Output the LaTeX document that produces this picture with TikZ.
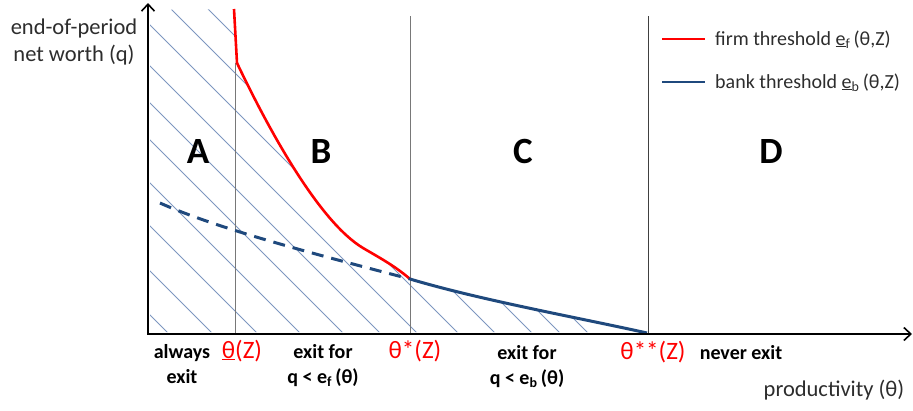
\documentclass[tikz,border=0pt]{standalone}
\usepackage{fontspec}
\setmainfont{Carlito}
\usetikzlibrary{arrows.meta}
\definecolor{navy}{RGB}{31,73,125}
\definecolor{hatchc}{RGB}{125,150,192}
\definecolor{redc}{RGB}{255,0,0}
\definecolor{txt}{RGB}{45,45,45}
\definecolor{vgray}{RGB}{120,120,120}
\begin{document}
\begin{tikzpicture}[x=1pt,y=-1pt,
  axis/.style={draw=black,line width=2pt,{Straight Barb[length=7pt,width=13pt,line width=1.6pt]}-{Straight Barb[length=7pt,width=13pt,line width=1.6pt]}},
  vline/.style={draw=vgray,line width=1pt},
  hatchline/.style={draw=hatchc,line width=0.8pt},
  redcurve/.style={draw=redc,line width=2.6pt},
  bluecurve/.style={draw=navy,line width=3pt},
  bluedash/.style={draw=navy,line width=3pt,dash pattern=on 12pt off 8pt},
  axlbl/.style={font=\fontsize{22.5}{26}\selectfont,text=txt,inner sep=0pt,anchor=base},
  leglbl/.style={font=\fontsize{20}{24}\selectfont,text=txt,inner sep=0pt,anchor=base west},
  reglbl/.style={font=\fontsize{37}{40}\selectfont\bfseries,inner sep=0pt,anchor=base},
  botlbl/.style={font=\fontsize{20}{24}\selectfont\bfseries,inner sep=0pt,anchor=base},
  redlbl/.style={font=\fontsize{25}{28}\selectfont,text=redc,inner sep=0pt,anchor=base}
]
\useasboundingbox (0,0) rectangle (913,410);

% key points of the curves
\coordinate (rtop) at (234,9);
\coordinate (rk) at (237,63);
\coordinate (rm) at (363,248);
\coordinate (star) at (410,279);
\coordinate (sstar) at (647,333);
\coordinate (dstart) at (160,203);

% hatching
\begin{scope}
  \clip (150,10) -- (rtop) -- (rk) .. controls (267,126) and (318,221) .. (rm)
        .. controls (380,258) and (395,266) .. (star)
        .. controls (480,300) and (580,318) .. (sstar) -- (647,332) -- (150,332) -- cycle;
  \foreach \xo in {168,212,257,300,343,380,417,458,495,532,560,588}
    \draw[hatchline] (\xo,333) -- ++(-420,-420);
\end{scope}

% vertical lines
\coordinate (v1t) at (235,63);
\coordinate (v1b) at (235,333);
\coordinate (v2t) at (410,16);
\coordinate (v2b) at (410,333);
\coordinate (v3t) at (648,16);
\coordinate (v3b) at (648,333);
\draw[vline] (v1t) -- (v1b);
\draw[vline] (v2t) -- (v2b);
\draw[vline,draw=black!75] (v3t) -- (v3b);

% curves
\draw[redcurve,line join=round] (rtop) -- (rk) .. controls (267,126) and (318,221) .. (rm)
        .. controls (380,258) and (395,266) .. (star);
\draw[bluedash] (dstart) .. controls (220,230) and (330,258) .. (star);
\draw[bluecurve] (star) .. controls (480,300) and (580,318) .. (sstar);

% axes
\coordinate (ytop) at (148,3);
\coordinate (orig) at (148,334);
\coordinate (xend) at (912,334);
\draw[axis] (ytop) -- (orig) -- (xend);

% axis labels
\node[axlbl] (yl1) at (74,34) {end-of-period};
\node[axlbl] (yl2) at (74,61) {net worth (q)};
\node[axlbl] (xl) at (834,396) {productivity (θ)};

% region labels
\node[reglbl] (rA) at (198,163) {A};
\node[reglbl] (rB) at (321,163) {B};
\node[reglbl] (rC) at (523,163) {C};
\node[reglbl] (rD) at (771,163) {D};

% bottom labels
\node[botlbl] (al1) at (182,358) {always};
\node[botlbl] (al2) at (182,383) {exit};
\node[redlbl] (t1) at (242,358) {\underline{θ}(Z)};
\node[botlbl] (ef1) at (323,358) {exit for};
\node[botlbl] (ef2) at (323,383) {q < e\textsubscript{f}\,(θ)};
\node[redlbl] (t2) at (415,358) {θ*(Z)};
\node[botlbl] (eb1) at (527,359) {exit for};
\node[botlbl] (eb2) at (527,384) {q < e\textsubscript{b}\,(θ)};
\node[redlbl] (t3) at (653,359) {θ**(Z)};
\node[botlbl] (ne) at (741,359) {never exit};

% legend
\coordinate (lr1) at (662,39);
\coordinate (lr2) at (705,39);
\coordinate (lb1) at (662,82);
\coordinate (lb2) at (705,82);
\draw[redcurve,line width=2.8pt] (lr1) -- (lr2);
\draw[bluecurve,line width=2.8pt] (lb1) -- (lb2);
\node[leglbl] (lt1) at (715,45) {firm threshold \underline{e}\textsubscript{f}\,(θ,Z)};
\node[leglbl] (lt2) at (715,88) {bank threshold \underline{e}\textsubscript{b}\,(θ,Z)};
\end{tikzpicture}
\end{document}
